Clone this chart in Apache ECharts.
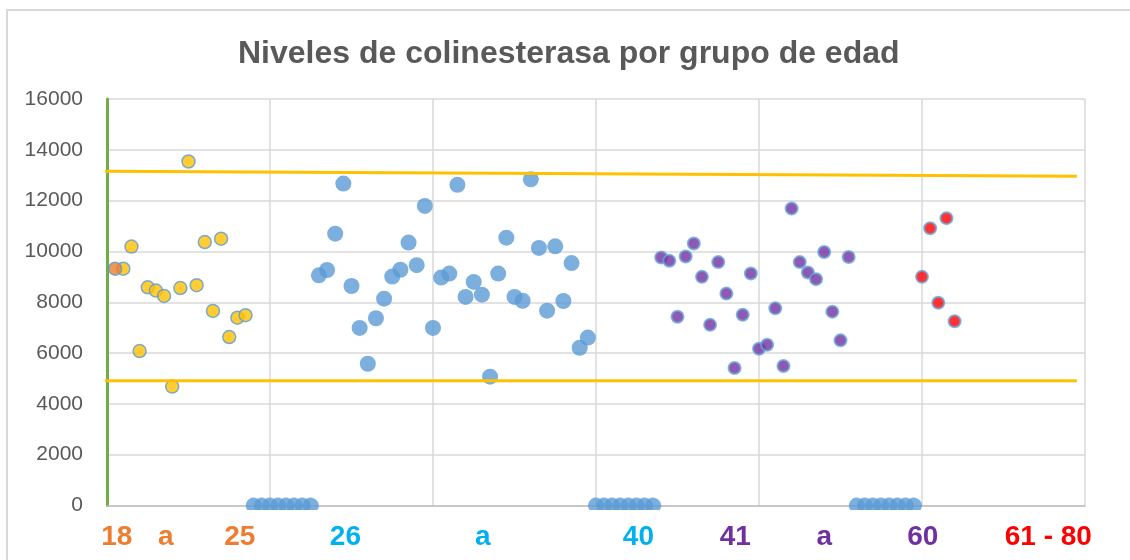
<!DOCTYPE html>
<html>
<head>
<meta charset="utf-8">
<script src="https://cdn.jsdelivr.net/npm/echarts@6/dist/echarts.min.js"></script>
<style>
  html, body { margin: 0; padding: 0; background: #fff; }
  #frame { position: absolute; left: 6px; top: 9px; width: 1200px; height: 600px; border: 2px solid #d9d9d9; box-sizing: border-box; }
  #main { position: absolute; left: 0; top: 0; width: 1130px; height: 560px; }
</style>
</head>
<body>
<div id="frame"></div>
<div id="main"></div>
<script>
// datos (x = numero de muestra)
var orangeStart = 1;
var orangeVals = [9320];
var yellowStart = 2;
var yellowVals = [9320, 10190, 6080, 8590, 8460, 8250, 4680, 8560, 13540, 8670, 10370, 7660, 10500, 6630, 7390, 7490];
var blueStart = 26;
var blueVals = [9060, 9270, 10700, 12670, 8640, 6990, 5580, 7370, 8140, 9010, 9280, 10350, 9460, 11790, 6990,
                8970, 9130, 12620, 8210, 8800, 8300, 5070, 9130, 10540, 8210, 8060, 12840, 10140, 7670, 10200,
                8050, 9540, 6210, 6610];
var purpleStart = 68;
var purpleVals = [9760, 9630, 7430, 9800, 10310, 9000, 7110, 9580, 8340, 5410, 7510, 9130, 6170, 6330, 7760,
                  5490, 11690, 9580, 9170, 8910, 9980, 7630, 6500, 9780];
var redStart = 100;
var redVals = [9000, 10910, 7980, 11310, 7250];
// muestras sin valor (quedan en 0)
var zeroX = [18, 19, 20, 21, 22, 23, 24, 25, 60, 61, 62, 63, 64, 65, 66, 67, 92, 93, 94, 95, 96, 97, 98, 99];
// limites (lineas amarillas)
var upperLimit = [[-0.4, 13160], [119, 12960]];
var lowerLimit = [[-0.4, 4910], [119, 4910]];
// etiquetas del eje x
var groupLabels = ['18', 'a', '25', '26', 'a', '40', '41', 'a', '60', '61 - 80'];
var groupPos = [1.2, 7.2, 16.3, 29.25, 46.1, 65.2, 77.1, 88, 100.1, 115.5];
var groupStyle = ['o', 'o', 'o', 'b', 'b', 'b', 'p', 'p', 'p', 'r'];

function seq(start, vals) {
    return vals.map(function (v, i) { return [start + i, v]; });
}

var font = 'Liberation Sans, Arial, sans-serif';
// circulo recortado por debajo del eje (como en Excel)
var cutCircle = 'path://M1.39,12.5 A8,8 0 1 1 14.61,12.5 Z';
var myChart = echarts.init(document.getElementById('main'), null, {renderer: 'canvas'});

var option = {
    backgroundColor: 'transparent',
    animation: false,
    title: {
        text: 'Niveles de colinesterasa por grupo de edad',
        left: 233,
        top: 33,
        textStyle: {color: '#595959', fontSize: 32, fontWeight: 'bold', fontFamily: font}
    },
    grid: {left: 107, right: 45, top: 99, bottom: 54.5, outerBoundsMode: 'none'},
    xAxis: {
        type: 'value',
        min: 0,
        max: 120,
        interval: 20,
        axisLine: {show: true, lineStyle: {color: '#bfbfbf', width: 1.5}},
        axisTick: {show: false},
        splitLine: {show: true, lineStyle: {color: '#d9d9d9', width: 1.5}},
        axisLabel: {
            customValues: groupPos,
            margin: 18,
            formatter: function (val) {
                var k = groupPos.indexOf(val);
                if (k < 0) return '';
                return '{' + groupStyle[k] + '|' + groupLabels[k] + '}';
            },
            rich: {
                o: {color: '#ED7D31', fontSize: 28, fontWeight: 'bold', fontFamily: font, lineHeight: 28},
                b: {color: '#00B0F0', fontSize: 28, fontWeight: 'bold', fontFamily: font, lineHeight: 28},
                p: {color: '#7030A0', fontSize: 28, fontWeight: 'bold', fontFamily: font, lineHeight: 28},
                r: {color: '#FF0000', fontSize: 28, fontWeight: 'bold', fontFamily: font, lineHeight: 28}
            }
        }
    },
    yAxis: {
        type: 'value',
        min: 0,
        max: 16000,
        interval: 2000,
        offset: 5,
        // eje vertical en verde
        axisLine: {show: true, lineStyle: {color: '#70AD47', width: 3}},
        axisTick: {show: false},
        splitLine: {show: true, lineStyle: {color: '#d9d9d9', width: 1.5}},
        axisLabel: {
            color: '#595959', fontSize: 21, fontFamily: font, margin: 19,
            formatter: function (v) { return String(v); }
        }
    },
    series: [
        {
            name: 'limite superior',
            type: 'line',
            data: upperLimit,
            symbol: 'none',
            clip: false,
            lineStyle: {color: '#FFC000', width: 3}
        },
        {
            name: 'limite inferior',
            type: 'line',
            data: lowerLimit,
            symbol: 'none',
            clip: false,
            lineStyle: {color: '#FFC000', width: 3}
        },
        {
            name: 'sin dato',
            type: 'scatter',
            data: zeroX.map(function (x) { return [x, 0]; }),
            symbol: cutCircle,
            symbolSize: [16, 12.5],
            symbolOffset: [0, -1.75],
            itemStyle: {color: '#5B9BD5'}
        },
        {
            name: '18 a 25',
            type: 'scatter',
            data: seq(yellowStart, yellowVals),
            symbolSize: 13,
            itemStyle: {color: '#FFC000', borderColor: '#5B9BD5', borderWidth: 1.5}
        },
        {
            name: '18',
            type: 'scatter',
            data: seq(orangeStart, orangeVals),
            symbolSize: 13,
            itemStyle: {color: '#ED7D31', borderColor: '#5B9BD5', borderWidth: 1.5}
        },
        {
            name: '26 a 40',
            type: 'scatter',
            data: seq(blueStart, blueVals),
            symbolSize: 16,
            itemStyle: {color: '#5B9BD5'}
        },
        {
            name: '41 a 60',
            type: 'scatter',
            data: seq(purpleStart, purpleVals),
            symbolSize: 12,
            itemStyle: {color: '#7030A0', borderColor: '#6aa5da', borderWidth: 2}
        },
        {
            name: '61 - 80',
            type: 'scatter',
            data: seq(redStart, redVals),
            symbolSize: 12,
            itemStyle: {color: '#FF0000', borderColor: '#6aa5da', borderWidth: 2}
        }
    ]
};
myChart.setOption(option);
</script>
</body>
</html>
